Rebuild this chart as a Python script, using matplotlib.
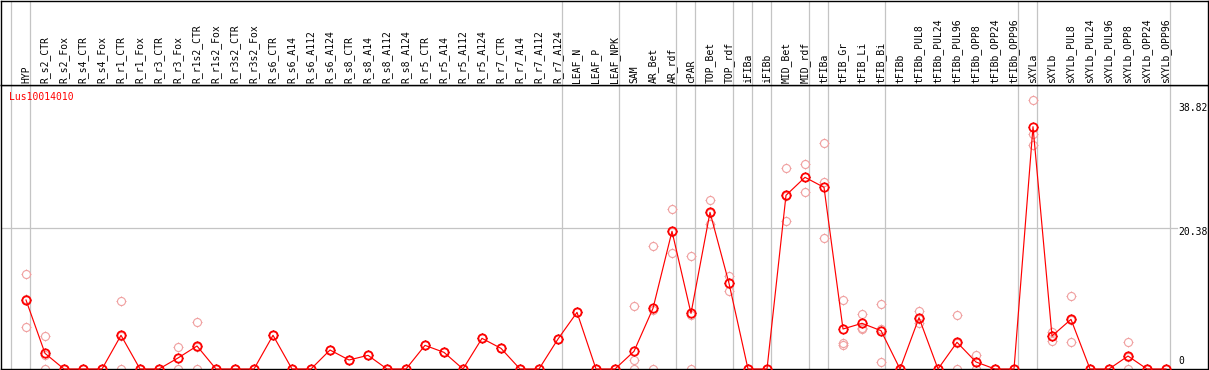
import matplotlib
matplotlib.use("Agg")
import matplotlib.pyplot as plt
from matplotlib.path import Path

GENE = "Lus10014010"

LABELS = [
    "HYP", "R_s2_CTR", "R_s2_Fox", "R_s4_CTR", "R_s4_Fox", "R_r1_CTR", "R_r1_Fox",
    "R_r3_CTR", "R_r3_Fox", "R_r1s2_CTR", "R_r1s2_Fox", "R_r3s2_CTR", "R_r3s2_Fox",
    "R_s6_CTR", "R_s6_A14", "R_s6_A112", "R_s6_A124", "R_s8_CTR", "R_s8_A14",
    "R_s8_A112", "R_s8_A124", "R_r5_CTR", "R_r5_A14", "R_r5_A112", "R_r5_A124",
    "R_r7_CTR", "R_r7_A14", "R_r7_A112", "R_r7_A124", "LEAF_N", "LEAF_P", "LEAF_NPK",
    "SAM", "AR_Bet", "AR_rdf", "cPAR", "TOP_Bet", "TOP_rdf", "iFIBa", "iFIBb",
    "MID_Bet", "MID_rdf", "tFIBa", "tFIB_Gr", "tFIB_Li", "tFIB_Bi", "tFIBb",
    "tFIBb_PUL8", "tFIBb_PUL24", "tFIBb_PUL96", "tFIBb_OPP8", "tFIBb_OPP24",
    "tFIBb_OPP96", "sXYLa", "sXYLb", "sXYLb_PUL8", "sXYLb_PUL24", "sXYLb_PUL96",
    "sXYLb_OPP8", "sXYLb_OPP24", "sXYLb_OPP96",
]

MEANS = [
    9.95, 2.26, 0, 0, 0, 4.86, 0, 0, 1.59, 3.32, 0, 0, 0,
    4.86, 0, 0, 2.74, 1.3, 1.97, 0, 0, 3.41, 2.4, 0, 4.42, 2.98, 0, 0, 4.33,
    8.17, 0, 0,
    2.55, 8.75, 19.86, 8.03, 22.6, 12.36, 0, 0, 25.05, 27.65,
    26.2, 5.77, 6.59, 5.53, 0, 7.4, 0, 3.85, 1.01, 0, 0,
    34.95, 4.76, 7.16, 0, 0, 1.87, 0, 0,
]

REPLICATES = [
    [13.7, 10.1, 6.0], [4.8, 2.0, 0], [0, 0, 0], [0, 0, 0], [0, 0, 0],
    [9.8, 4.8, 0], [0, 0, 0], [0, 0, 0], [3.2, 1.6, 0], [6.8, 3.2, 0],
    [0, 0, 0], [0, 0, 0], [0, 0, 0],
    [4.86, 4.86, 4.86], [0, 0, 0], [0, 0, 0], [2.74, 2.74, 2.74],
    [1.3, 1.3, 1.3], [1.97, 1.97, 1.97], [0, 0, 0], [0, 0, 0],
    [3.41, 3.41, 3.41], [2.4, 2.4, 2.4], [0, 0, 0], [4.42, 4.42, 4.42],
    [2.98, 2.98, 2.98], [0, 0, 0], [0, 0, 0], [4.33, 4.33, 4.33],
    [8.17, 8.17, 8.17], [0, 0, 0], [0, 0, 0],
    [9.1, 1.25, 0], [17.7, 8.5, 0], [23.1, 19.7, 16.8], [16.3, 7.8, 0],
    [24.4, 22.5, 20.9], [13.4, 12.4, 11.2], [0, 0, 0], [0, 0, 0],
    [29.0, 24.9, 21.35], [29.6, 27.7, 25.6],
    [32.55, 26.97, 18.85], [9.95, 3.7, 3.5], [8.0, 5.9, 5.8], [9.4, 5.8, 1.0],
    [0, 0, 0], [8.4, 7.2, 6.6], [0, 0, 0], [7.75, 3.8, 0], [2.0, 1.0, 0],
    [0, 0, 0], [0, 0, 0],
    [38.82, 33.9, 32.3], [5.4, 4.8, 4.1], [10.5, 7.1, 3.85], [0, 0, 0],
    [0, 0, 0], [3.85, 1.8, 0], [0, 0, 0], [0, 0, 0],
]

# last sample index of each group
GROUP_ENDS = [-1, 0, 28, 31, 34, 35, 37, 38, 39, 41, 42, 45, 52, 53, 60]
Y_TICKS = [0, 20.38, 38.82]

W, H = 1209, 370
GRAY = "#c4c4c4"
PINK = "#f0a0a0"
FONT = "DejaVu Sans Mono"

# circle with four short stubs, and the stubs alone
R = 1.25
circ = Path.unit_circle()
stub_verts = [(0, 1.0), (0, R), (0, -1.0), (0, -R),
              (1.0, 0), (R, 0), (-1.0, 0), (-R, 0)]
stub_codes = [Path.MOVETO, Path.LINETO] * 4
stubs = Path(stub_verts, stub_codes)
ring_stubs = Path.make_compound_path(circ, stubs)

x = list(range(len(LABELS)))
xmin = (0.5 - 26) / 19
xmax = (1207.5 - 26) / 19
ytop = (369 - 85) / 6.933

fig = plt.figure(figsize=(W / 100, H / 100), dpi=100)
ax = fig.add_axes([0.5 / W, 1 / H, 1207 / W, 284 / H])
ax_top = fig.add_axes([0.5 / W, 285 / H, 1207 / W, 84.5 / H])

for a in (ax, ax_top):
    a.set_xlim(xmin, xmax)
    a.set_xticks([])
    a.set_yticks([])
    for s in a.spines.values():
        s.set_linewidth(1.0)
        s.set_color("black")
    for g in GROUP_ENDS:
        a.axvline(g + 0.22, color=GRAY, lw=0.9, zorder=0)

ax.set_ylim(0, ytop)
ax_top.set_ylim(0, 1)

for i, lab in zip(x, LABELS):
    ax_top.text(i, 0.025, lab, rotation=90, ha="center", va="bottom",
                fontsize=7, family=FONT)

# gridline at the middle tick, stops where its label starts
grid_end = (1177 - 0.5) / 1207
ax.axhline(Y_TICKS[1], xmax=grid_end, color=GRAY, lw=0.9, zorder=0)

tx = (1178 - 26) / 19
ax.annotate(f"{Y_TICKS[2]:.2f}", xy=(tx, Y_TICKS[2]), xytext=(0, -3),
            textcoords="offset pixels", ha="left", va="top", fontsize=7, family=FONT)
ax.annotate(f"{Y_TICKS[1]:.2f}", xy=(tx, Y_TICKS[1]), xytext=(0, 1),
            textcoords="offset pixels", ha="left", va="top", fontsize=7, family=FONT)
ax.annotate(f"{Y_TICKS[0]}", xy=(tx, Y_TICKS[0]), xytext=(0, 3),
            textcoords="offset pixels", ha="left", va="bottom", fontsize=7, family=FONT)

ax.text(9 / 1207, 0.975, GENE, transform=ax.transAxes, color="red",
        ha="left", va="top", fontsize=7, family=FONT)

# replicates
for i, reps in zip(x, REPLICATES):
    ax.plot([i] * len(reps), reps, linestyle="none", marker=ring_stubs,
            markersize=7.2, markerfacecolor="none", markeredgecolor=PINK,
            markeredgewidth=0.8, zorder=2, clip_on=False)

# mean line
ax.plot(x, MEANS, color="red", lw=0.85, zorder=3, clip_on=False)
ax.plot(x, MEANS, linestyle="none", marker=stubs, markersize=7.6,
        markeredgecolor="#5a0000", markeredgewidth=0.7, zorder=4, clip_on=False)
ax.plot(x, MEANS, linestyle="none", marker="o", markersize=6.0,
        markerfacecolor="none", markeredgecolor="red", markeredgewidth=1.3,
        zorder=5, clip_on=False)

fig.savefig("out.png", dpi=100)
